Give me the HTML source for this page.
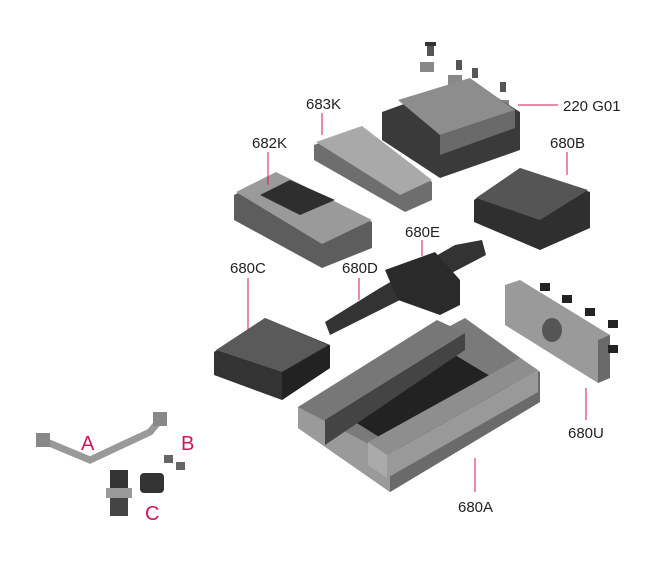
<!DOCTYPE html>
<html><head><style>
html,body{margin:0;padding:0;background:#fff;width:653px;height:562px;overflow:hidden}
svg{display:block}
text{font-family:"Liberation Sans",sans-serif;font-size:15px;fill:#222}
.r{fill:#d4145a;font-size:20px}
line.l{stroke:#d4145a;stroke-width:1}
</style></head><body>
<svg width="653" height="562" viewBox="0 0 653 562">
<!-- 220 G01 small parts -->
<g fill="#555">
<rect x="427" y="44" width="7" height="12"/><rect x="425" y="42" width="11" height="4" fill="#333"/>
<rect x="456" y="60" width="6" height="10"/><rect x="472" y="68" width="6" height="10"/><rect x="500" y="82" width="6" height="10"/>
<rect x="420" y="62" width="14" height="10" fill="#888"/><rect x="448" y="75" width="14" height="10" fill="#888"/>
<rect x="465" y="85" width="14" height="10" fill="#888"/><rect x="493" y="100" width="16" height="10" fill="#888"/>
</g>
<!-- top block 220G01 -->
<polygon points="382,112 470,80 520,112 520,150 440,178 382,140" fill="#3a3a3a"/>
<polygon points="398,100 470,78 515,110 440,135" fill="#8d8d8d"/>
<polygon points="440,135 515,110 515,128 440,155" fill="#6a6a6a"/>
<!-- 683K -->
<polygon points="314,145 360,128 432,182 432,200 405,212 314,160" fill="#6e6e6e"/>
<polygon points="316,142 362,126 432,180 400,195" fill="#a9a9a9"/>
<!-- 682K -->
<polygon points="234,195 275,174 372,222 372,248 322,268 234,220" fill="#5d5d5d"/>
<polygon points="236,192 276,172 372,220 322,244" fill="#9a9a9a"/>
<polygon points="290,180 335,200 300,215 260,195" fill="#2e2e2e"/>
<!-- 680B -->
<polygon points="474,200 520,168 590,192 590,228 540,250 474,222" fill="#2f2f2f"/>
<polygon points="476,198 520,168 588,190 540,220" fill="#555"/>
<!-- 680D/E -->
<polygon points="325,322 380,288 455,245 482,240 486,255 400,300 330,335" fill="#333"/>
<polygon points="385,270 435,252 460,280 460,305 440,315 398,300" fill="#2a2a2a"/>
<!-- 680C -->
<polygon points="214,352 265,318 330,345 330,368 282,400 214,375" fill="#333"/>
<polygon points="216,350 265,318 328,345 282,372" fill="#5a5a5a"/>
<polygon points="282,372 330,345 330,368 282,400" fill="#222"/>
<!-- 680U -->
<polygon points="505,285 520,280 610,335 610,378 598,383 505,325" fill="#9a9a9a"/>
<polygon points="598,340 610,335 610,378 598,383" fill="#6a6a6a"/>
<ellipse cx="552" cy="330" rx="10" ry="12" fill="#555"/>
<g fill="#222"><rect x="540" y="283" width="10" height="8"/><rect x="562" y="295" width="10" height="8"/><rect x="585" y="308" width="10" height="8"/><rect x="608" y="320" width="10" height="8"/><rect x="608" y="345" width="10" height="8"/></g>
<!-- 680A main vise -->
<polygon points="298,407 465,318 540,372 540,402 390,492 298,428" fill="#7a7a7a"/>
<polygon points="298,407 390,455 390,492 298,428" fill="#9a9a9a"/>
<polygon points="390,455 540,372 540,402 390,492" fill="#6a6a6a"/>
<polygon points="320,400 430,340 510,388 400,450" fill="#222"/>
<polygon points="298,407 437,320 465,333 325,420" fill="#777"/>
<polygon points="325,420 465,333 465,350 325,445" fill="#444"/>
<polygon points="368,442 520,358 538,370 387,455" fill="#8e8e8e"/>
<polygon points="368,442 387,455 387,478 368,465" fill="#aaa"/>
<polygon points="387,455 538,370 538,392 387,478" fill="#999"/>
<!-- accessories -->
<path d="M42,440 L90,460 L150,432 L160,420" stroke="#999" stroke-width="7" fill="none" stroke-linecap="round"/>
<rect x="36" y="433" width="14" height="14" fill="#888"/><rect x="153" y="412" width="14" height="14" fill="#888"/>
<rect x="164" y="455" width="9" height="8" fill="#666"/><rect x="176" y="462" width="9" height="8" fill="#666"/>
<rect x="140" y="473" width="24" height="20" rx="4" fill="#333"/>
<rect x="110" y="470" width="18" height="18" fill="#333"/><rect x="106" y="488" width="26" height="10" fill="#999"/><rect x="110" y="498" width="18" height="18" fill="#444"/>
<!-- leader lines -->
<line class="l" x1="518" y1="105" x2="558" y2="105"/>
<line class="l" x1="322" y1="113" x2="322" y2="135"/>
<line class="l" x1="268" y1="152" x2="268" y2="185"/>
<line class="l" x1="567" y1="152" x2="567" y2="175"/>
<line class="l" x1="422" y1="240" x2="422" y2="256"/>
<line class="l" x1="359" y1="278" x2="359" y2="300"/>
<line class="l" x1="248" y1="278" x2="248" y2="330"/>
<line class="l" x1="586" y1="388" x2="586" y2="420"/>
<line class="l" x1="475" y1="458" x2="475" y2="492"/>
<!-- labels -->
<text x="563" y="111">220 G01</text>
<text x="306" y="109">683K</text>
<text x="252" y="148">682K</text>
<text x="550" y="148">680B</text>
<text x="405" y="237">680E</text>
<text x="342" y="273">680D</text>
<text x="230" y="273">680C</text>
<text x="568" y="438">680U</text>
<text x="458" y="512">680A</text>
<text class="r" x="81" y="450">A</text>
<text class="r" x="181" y="450">B</text>
<text class="r" x="145" y="520">C</text>
</svg>
</body></html>
